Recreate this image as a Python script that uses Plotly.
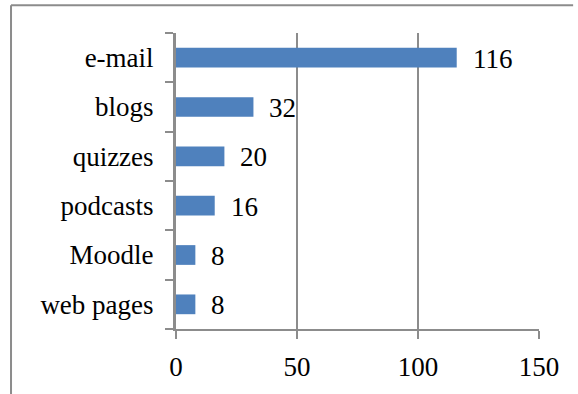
import plotly.graph_objects as go

categories = ["web pages", "Moodle", "podcasts", "quizzes", "blogs", "e-mail"]
values = [8, 8, 16, 20, 32, 116]
x_ticks = [0, 50, 100, 150]

BAR = "#4F81BD"
GRAY = "#8C8C8C"
FONT = "Liberation Serif, Times New Roman, serif"
FS = 27

fig = go.Figure(go.Bar(
    x=values, y=categories, orientation="h",
    marker=dict(color=BAR, line=dict(width=0)),
    hoverinfo="skip",
))

for c, v in zip(categories, values):
    fig.add_annotation(x=v, y=c, text=str(v), showarrow=False,
                       xanchor="left", xshift=14, yshift=-1,
                       font=dict(family=FONT, size=FS, color="black"))

# outer frame (top and left only)
fig.add_shape(type="line", xref="paper", yref="paper",
              x0=-0.4545, x1=1.094, y0=1.094, y1=1.094,
              line=dict(color=GRAY, width=2))
fig.add_shape(type="line", xref="paper", yref="paper",
              x0=-0.4545, x1=-0.4545, y0=1.094, y1=-0.25,
              line=dict(color=GRAY, width=2))

fig.update_layout(
    width=578, height=394,
    margin=dict(l=176, r=39, t=33, b=63),
    paper_bgcolor="white", plot_bgcolor="white",
    bargap=0.6, showlegend=False,
    font=dict(family=FONT, size=FS, color="black"),
    xaxis=dict(range=[0, 150], tickvals=x_ticks, ticks="outside", ticklen=8,
               tickwidth=2, tickcolor=GRAY, showline=True, linecolor=GRAY,
               linewidth=2, showgrid=True, gridcolor=GRAY, gridwidth=2,
               zeroline=False, fixedrange=True, ticklabelstandoff=5),
    yaxis=dict(categoryorder="array", categoryarray=categories,
               tickson="boundaries", ticks="outside", ticklen=8, tickwidth=2,
               tickcolor=GRAY, showline=True, linecolor=GRAY, linewidth=3,
               showgrid=False, zeroline=False, fixedrange=True,
               ticklabelstandoff=14),
)

fig.write_html("out.html")
